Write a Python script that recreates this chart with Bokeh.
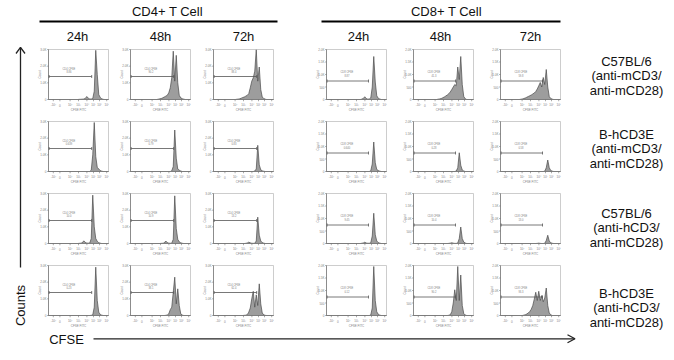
import math
from bokeh.plotting import figure
from bokeh.models import Range1d
from bokeh.core.properties import value
from bokeh.embed import file_html
from bokeh.resources import INLINE

# ---------------- data ----------------
TIMES = ["24h", "48h", "72h"]
SUBSETS = ["CD4+ T Cell", "CD8+ T Cell"]
GATE_NAMES = ["CD4 CFSE", "CD8 CFSE"]
ROW_LABELS = [
    ["C57BL/6", "(anti-mCD3/", "anti-mCD28)"],
    ["B-hCD3E", "(anti-mCD3/", "anti-mCD28)"],
    ["C57BL/6", "(anti-hCD3/", "anti-mCD28)"],
    ["B-hCD3E", "(anti-hCD3/", "anti-mCD28)"],
]
BINS = list(range(40))  # CFSE channel bins (log scale)
X_TICKS = [3.2, 7.6, 14.4, 20.0, 25.6, 30.0, 34.0, 38.8]
X_TICK_LABELS = ["-10²", "0", "10²", "10³", "10⁴", "10⁵", "10⁶", "10⁷"]
CD4_Y_TICKS = [0, 1000, 2000, 3000]
CD4_Y_TICK_LABELS = ["0", "1.0K", "2.0K", "3.0K"]
CD8_Y_TICKS = [0, 500, 1000, 1500, 2000]
CD8_Y_TICK_LABELS = ["0", "500", "1.0K", "1.5K", "2.0K"]
CD4_GATE_PCT = [["8.86", "90.2", "88.4"], ["0.639", "0.79", "0.83"],
                ["10.0", "10.9", "13.2"], ["0.23", "38.1", "62.4"]]
CD8_GATE_PCT = [["8.87", "41.3", "59.8"], ["0.640", "0.28", "0.58"],
                ["9.45", "10.4", "13.0"], ["0.12", "90.2", "93.3"]]

# counts per CFSE bin
CD4_R1_24 = [0]*20 + [10, 15, 20, 30, 60, 180, 80, 30, 30, 60, 500, 2950, 1500, 300, 120, 40, 10, 0, 0, 0]
CD4_R1_48 = [0]*18 + [20, 40, 60, 100, 150, 200, 250, 400, 700, 1300, 2900, 1100, 2650, 1000, 250, 100, 50, 20, 0, 0, 0, 0]
CD4_R1_72 = [0]*15 + [15, 25, 40, 80, 120, 150, 200, 250, 350, 700, 1100, 1300, 1700, 3000, 1100, 1950, 600, 150, 60, 20, 0, 0, 0, 0, 0]
CD8_R1_24 = [0]*23 + [15, 40, 110, 40, 15, 20, 60, 500, 1720, 700, 150, 50, 20, 0, 0, 0, 0]
CD8_R1_48 = [0]*16 + [15, 25, 40, 70, 100, 140, 180, 230, 300, 400, 500, 600, 550, 1300, 800, 1720, 600, 120, 30, 0, 0, 0, 0, 0]
CD8_R1_72 = [0]*13 + [10, 20, 40, 60, 90, 120, 150, 180, 220, 260, 320, 420, 550, 680, 500, 880, 600, 1200, 500, 120, 40, 15, 0, 0, 0, 0, 0]

CD4_R2_24 = [0]*28 + [80, 1000, 2940, 900, 250, 150, 60, 20, 0, 0, 0, 0]
CD4_R2_48 = [0]*27 + [40, 300, 2490, 800, 150, 80, 30, 0, 0, 0, 0, 0, 0]
CD4_R2_72 = [0]*27 + [30, 150, 1570, 400, 100, 40, 15, 0, 0, 0, 0, 0, 0]
CD8_R2_24 = [0]*29 + [30, 300, 1180, 350, 80, 40, 15, 0, 0, 0, 0]
CD8_R2_48 = [0]*28 + [20, 150, 750, 250, 60, 20, 0, 0, 0, 0, 0, 0]
CD8_R2_72 = [0]*29 + [15, 150, 460, 150, 40, 15, 0, 0, 0, 0, 0]

CD4_R3_24 = [0]*20 + [10, 20, 40, 160, 70, 25, 20, 30, 300, 2900, 1000, 300, 130, 50, 20, 0, 0, 0, 0, 0]
CD4_R3_48 = [0]*20 + [10, 15, 30, 150, 60, 20, 15, 20, 250, 2860, 900, 250, 100, 40, 15, 0, 0, 0, 0, 0]
CD4_R3_72 = [0]*21 + [10, 30, 80, 40, 15, 10, 15, 150, 1580, 500, 150, 60, 20, 0, 0, 0, 0, 0, 0]
CD8_R3_24 = [0]*23 + [10, 20, 50, 20, 10, 10, 30, 300, 1210, 350, 100, 40, 15, 0, 0, 0, 0]
CD8_R3_48 = [0]*23 + [5, 15, 30, 15, 5, 5, 20, 200, 660, 200, 60, 20, 0, 0, 0, 0, 0]
CD8_R3_72 = [0]*24 + [5, 15, 5, 0, 0, 10, 120, 330, 100, 30, 10, 0, 0, 0, 0, 0]

CD4_R4_24 = [0]*28 + [10, 40, 500, 2900, 900, 200, 60, 20, 0, 0, 0, 0]
CD4_R4_48 = [0]*23 + [10, 30, 100, 350, 500, 1400, 2300, 700, 1600, 600, 100, 30, 0, 0, 0, 0, 0]
CD4_R4_72 = [0]*20 + [10, 20, 50, 200, 450, 1000, 1450, 500, 1240, 600, 1900, 700, 150, 40, 10, 0, 0, 0, 0, 0]
CD8_R4_24 = [0]*29 + [20, 300, 1960, 600, 150, 50, 15, 0, 0, 0, 0]
CD8_R4_48 = [0]*23 + [10, 30, 150, 500, 1030, 600, 1960, 600, 1620, 400, 80, 20, 0, 0, 0, 0, 0]
CD8_R4_72 = [0]*15 + [15, 30, 60, 100, 160, 250, 400, 650, 930, 600, 970, 600, 800, 550, 700, 1100, 400, 100, 30, 0, 0, 0, 0, 0, 0]

CD4_HISTS = [[CD4_R1_24, CD4_R1_48, CD4_R1_72], [CD4_R2_24, CD4_R2_48, CD4_R2_72],
             [CD4_R3_24, CD4_R3_48, CD4_R3_72], [CD4_R4_24, CD4_R4_48, CD4_R4_72]]
CD8_HISTS = [[CD8_R1_24, CD8_R1_48, CD8_R1_72], [CD8_R2_24, CD8_R2_48, CD8_R2_72],
             [CD8_R3_24, CD8_R3_48, CD8_R3_72], [CD8_R4_24, CD8_R4_48, CD8_R4_72]]

# ---------------- layout / style ----------------
FONT = value("Liberation Sans")
PW, PH = 60, 50
COL_LEFT = [[48, 130, 213], [326, 413, 500]]
ROW_TOP = [49, 121, 193, 265]
ROW_LABEL_MID = [75, 148, 227, 307]
ROW_LABEL_X = 626
HEADER_X = [167, 446]
HEADER_RULE = [(39, 277), (321, 560)]
TIME_X = [[77, 160, 243], [358, 440, 530]]

p = figure(width=674, height=360, x_range=Range1d(0, 674), y_range=Range1d(360, 0),
           output_backend="svg", toolbar_location=None, min_border=0,
           x_axis_location=None, y_axis_location=None)
p.grid.visible = False
p.outline_line_color = None


def panel(left, top, counts, ymax, yticks, ylabels, gate_x1, gate_frac, lab_frac, gname, gval):
    sub = p.subplot(x_source=Range1d(0, 40), y_source=Range1d(0, ymax),
                    x_target=Range1d(left, left + PW), y_target=Range1d(top + PH, top))
    xs = [0] + [b + 0.5 for b in BINS] + [40]
    ys = [0] + list(counts) + [0]
    sub.patch(xs, ys, fill_color="#9d9d9d", line_color="#4a4a4a", line_width=0.7)
    sub.quad(left=[0], right=[40], bottom=[0], top=[ymax], fill_color=None,
             line_color="#b8b8b8", line_width=0.7)
    sub.segment(x0=[0, 0], y0=[0, 0], x1=[0, 40], y1=[ymax, 0], line_color="#707070", line_width=0.7)
    n, m = len(X_TICKS), len(yticks)
    tk = ymax * 0.035
    sub.segment(x0=X_TICKS, y0=[0] * n, x1=X_TICKS, y1=[-tk] * n, line_color="#707070", line_width=0.6)
    sub.segment(x0=[0] * m, y0=yticks, x1=[-0.9] * m, y1=yticks, line_color="#707070", line_width=0.6)
    sub.text(x=X_TICKS, y=[-ymax * 0.105] * n, text=X_TICK_LABELS, text_font=FONT,
             text_font_size="3px", text_color="#808080", text_align="center", text_baseline="middle")
    sub.text(x=[-1.4] * m, y=yticks, text=ylabels, text_font=FONT, text_font_size="3px",
             text_color="#808080", text_align="right", text_baseline="middle")
    sub.text(x=[20], y=[-ymax * 0.205], text=["CFSE FITC"], text_font=FONT, text_font_size="3px",
             text_color="#808080", text_align="center", text_baseline="middle")
    sub.text(x=[-5.6], y=[ymax / 2], text=["Count"], angle=math.pi / 2, text_font=FONT,
             text_font_size="3px", text_color="#808080", text_align="center", text_baseline="middle")
    gy = ymax * gate_frac
    cap = ymax * 0.03
    sub.segment(x0=[0.4], y0=[gy], x1=[gate_x1], y1=[gy], line_color="#555555", line_width=0.8)
    sub.segment(x0=[0.4, gate_x1], y0=[gy - cap] * 2, x1=[0.4, gate_x1], y1=[gy + cap] * 2,
                line_color="#555555", line_width=0.8)
    sub.text(x=[13.6, 13.6], y=[ymax * lab_frac, ymax * (lab_frac - 0.055)], text=[gname, gval],
             text_font=FONT, text_font_size="2.6px", text_color="#808080", text_align="center",
             text_baseline="middle")


for r in range(4):
    for c in range(3):
        panel(COL_LEFT[0][c], ROW_TOP[r], CD4_HISTS[r][c], 3000, CD4_Y_TICKS, CD4_Y_TICK_LABELS,
              28.8, 0.46, 0.60, GATE_NAMES[0], CD4_GATE_PCT[r][c])
        panel(COL_LEFT[1][c], ROW_TOP[r], CD8_HISTS[r][c], 2000, CD8_Y_TICKS, CD8_Y_TICK_LABELS,
              28.0, 0.37, 0.535, GATE_NAMES[1], CD8_GATE_PCT[r][c])

txt = dict(text_font=FONT, text_font_size="13px", text_color="#111111",
           text_align="center", text_baseline="middle")

# group headers with rules
for g in range(2):
    p.text(x=[HEADER_X[g]], y=[11], text=[SUBSETS[g]], **txt)
    p.segment(x0=[HEADER_RULE[g][0]], y0=[21], x1=[HEADER_RULE[g][1]], y1=[21],
              line_color="black", line_width=2)
    p.text(x=TIME_X[g], y=[36] * 3, text=TIMES, **txt)

# row labels
for r in range(4):
    mid = ROW_LABEL_MID[r]
    p.text(x=[ROW_LABEL_X] * 3, y=[mid - 14.5, mid, mid + 14.5], text=ROW_LABELS[r], **txt)

# Counts axis arrow
p.line(x=[20, 20], y=[47, 267], line_color="#222222", line_width=1.3)
p.line(x=[15.5, 20, 24.5], y=[53, 46.8, 53], line_color="#222222", line_width=1.3)
p.text(x=[20], y=[305], text=["Counts"], angle=math.pi / 2, **txt)

# CFSE axis arrow
p.text(x=[66], y=[339], text=["CFSE"], **txt)
p.line(x=[93, 574], y=[338.3, 338.3], line_color="#222222", line_width=1.3)
p.line(x=[567, 574.5, 567], y=[334.3, 338.3, 342.3], line_color="#222222", line_width=1.3)

open("out.html", "w").write(file_html(p, INLINE))
